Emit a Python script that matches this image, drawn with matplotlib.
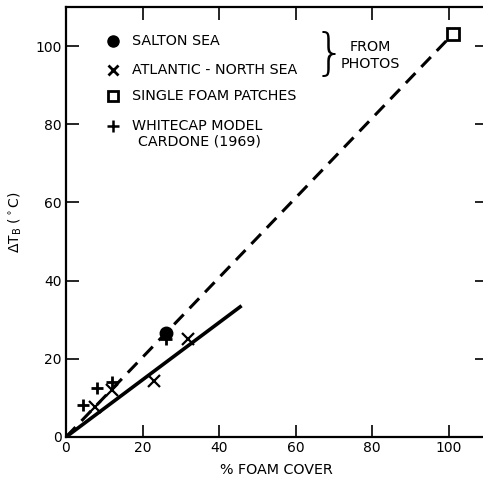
import matplotlib
matplotlib.use("Agg")
import matplotlib.pyplot as plt

# Data
salton_x = [26]
salton_y = [26.5]
atlantic_x = [0, 7.6, 12, 23, 32]
atlantic_y = [0, 7.7, 12, 14.3, 25]
single_x = [101]
single_y = [103]
whitecap_x = [4.5, 8, 12, 26]
whitecap_y = [8.2, 12.5, 14, 25]
dashed_x = [0, 101]
dashed_y = [0, 103]
solid_x = [0, 45.5]
solid_y = [0, 33.3]

xticks = [0, 20, 40, 60, 80, 100]
yticks = [0, 20, 40, 60, 80, 100]

legend_labels = ["SALTON SEA", "ATLANTIC - NORTH SEA", "SINGLE FOAM PATCHES",
                 "WHITECAP MODEL", "CARDONE (1969)"]

plt.rcParams['font.family'] = ['DejaVu Sans']
fig = plt.figure(figsize=(4.83, 4.83), dpi=100)
ax = fig.add_axes([66/483, 46/483, (487-66)/483, (437-7)/483])
ax.set_xlim(0, 110)
ax.set_ylim(0, 110)

ax.plot(dashed_x, dashed_y, color='black', lw=2.2, ls=(0, (4.5, 2.8)), zorder=2)
ax.plot(solid_x, solid_y, color='black', lw=2.6, zorder=2)

ax.plot(salton_x, salton_y, 'o', color='black', ms=9, zorder=3)
ax.plot(atlantic_x, atlantic_y, 'x', color='black', ms=9, mew=1.6, zorder=3)
ax.plot(single_x, single_y, 's', mfc='white', mec='black', ms=8, mew=2, zorder=3, clip_on=False)
ax.plot(whitecap_x, whitecap_y, '+', color='black', ms=9, mew=2, zorder=3)

# legend
mk_x = 12.3
tx_x = 17.3
rows = [101.2, 94.0, 87.3, 79.6, 75.6]
fs = 10.3
ax.plot([mk_x], [rows[0]], 'o', color='black', ms=8)
ax.plot([mk_x], [rows[1]], 'x', color='black', ms=7, mew=2)
ax.plot([mk_x], [rows[2]], 's', mfc='white', mec='black', ms=7, mew=2)
ax.plot([mk_x], [rows[3]], '+', color='black', ms=8, mew=1.8)
for i, (r, lab) in enumerate(zip(rows, legend_labels)):
    x0 = tx_x + (1.4 if i == 4 else 0)
    ax.text(x0, r, lab, fontsize=fs, va='center', ha='left')

ax.text(68.8, 97.8, '}', fontsize=36, va='center', ha='center', fontweight='ultralight')
ax.text(79.5, 99.8, 'FROM', fontsize=fs, va='center', ha='center')
ax.text(79.5, 95.4, 'PHOTOS', fontsize=fs, va='center', ha='center')

ax.set_xticks(xticks)
ax.set_yticks(yticks)
ax.tick_params(direction='in', length=9, width=1.2, top=True, right=True,
               labelsize=10, pad=3)
for s in ax.spines.values():
    s.set_linewidth(1.6)

ax.set_xlabel('% FOAM COVER', fontsize=fs, labelpad=6)
ax.set_ylabel(r'$\Delta$T$_\mathrm{B}$ ($^\circ$C)', fontsize=10, labelpad=8)

fig.savefig('out.png', dpi=100)
